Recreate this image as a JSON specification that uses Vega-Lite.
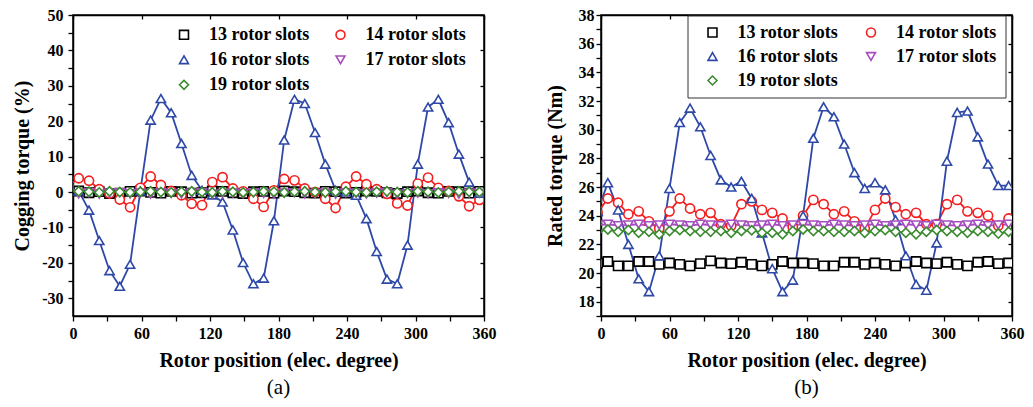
{
"$schema": "https://vega.github.io/schema/vega-lite/v6.json",
"autosize": {"type": "pad"},
"padding": {"left": 11, "top": 6, "right": 5, "bottom": 5},
"background": "white",
"bounds": "flush",
"spacing": 117,
"resolve": {"scale": {"color": "independent", "shape": "independent"}, "legend": {"color": "independent", "shape": "independent"}},
"config": {
  "view": {"stroke": "#000", "strokeWidth": 1.5},
  "axis": {"domainColor": "#000", "domainWidth": 1.5, "tickColor": "#000", "tickWidth": 1.3, "tickSize": 5,
    "labelFont": "Liberation Serif", "labelFontSize": 16, "labelFontWeight": "bold", "labelColor": "#000", "labelPadding": 4,
    "titleFont": "Liberation Serif", "titleFontSize": 20, "titleFontWeight": "bold", "titleColor": "#000",
    "grid": false, "labelOverlap": false, "labelFlush": false}
},
"datasets": {
"a": [
{"slots":"13 rotor slots","x":-4,"y":0.2},{"slots":"13 rotor slots","x":5,"y":0.3},{"slots":"13 rotor slots","x":14,"y":-0.2},{"slots":"13 rotor slots","x":23,"y":0.1},{"slots":"13 rotor slots","x":32,"y":-0.4},{"slots":"13 rotor slots","x":41,"y":-0.3},{"slots":"13 rotor slots","x":50,"y":0.2},{"slots":"13 rotor slots","x":59,"y":0.3},{"slots":"13 rotor slots","x":68,"y":-0.1},{"slots":"13 rotor slots","x":77,"y":-0.3},{"slots":"13 rotor slots","x":86,"y":0.2},{"slots":"13 rotor slots","x":95,"y":0.1},{"slots":"13 rotor slots","x":104,"y":-0.3},{"slots":"13 rotor slots","x":113,"y":-0.2},{"slots":"13 rotor slots","x":122,"y":0.3},{"slots":"13 rotor slots","x":131,"y":0.2},{"slots":"13 rotor slots","x":140,"y":-0.2},{"slots":"13 rotor slots","x":149,"y":-0.4},{"slots":"13 rotor slots","x":158,"y":0.1},{"slots":"13 rotor slots","x":167,"y":0.2},{"slots":"13 rotor slots","x":176,"y":-0.3},{"slots":"13 rotor slots","x":185,"y":0.3},{"slots":"13 rotor slots","x":194,"y":0.1},{"slots":"13 rotor slots","x":203,"y":-0.2},{"slots":"13 rotor slots","x":212,"y":-0.3},{"slots":"13 rotor slots","x":221,"y":0.2},{"slots":"13 rotor slots","x":230,"y":0.1},{"slots":"13 rotor slots","x":239,"y":-0.3},{"slots":"13 rotor slots","x":248,"y":-0.1},{"slots":"13 rotor slots","x":257,"y":0.3},{"slots":"13 rotor slots","x":266,"y":0.2},{"slots":"13 rotor slots","x":275,"y":-0.2},{"slots":"13 rotor slots","x":284,"y":-0.4},{"slots":"13 rotor slots","x":293,"y":0.1},{"slots":"13 rotor slots","x":302,"y":0.3},{"slots":"13 rotor slots","x":311,"y":-0.2},{"slots":"13 rotor slots","x":320,"y":-0.3},{"slots":"13 rotor slots","x":329,"y":0.2},{"slots":"13 rotor slots","x":338,"y":0.1},{"slots":"13 rotor slots","x":347,"y":-0.3},{"slots":"13 rotor slots","x":356,"y":0.2},
{"slots":"14 rotor slots","x":-4,"y":1.8},{"slots":"14 rotor slots","x":5,"y":3.9},{"slots":"14 rotor slots","x":14,"y":3.2},{"slots":"14 rotor slots","x":23,"y":0.8},{"slots":"14 rotor slots","x":32,"y":-0.4},{"slots":"14 rotor slots","x":41,"y":-2.1},{"slots":"14 rotor slots","x":50,"y":-4.3},{"slots":"14 rotor slots","x":59,"y":1.2},{"slots":"14 rotor slots","x":68,"y":4.4},{"slots":"14 rotor slots","x":77,"y":2.0},{"slots":"14 rotor slots","x":86,"y":0.3},{"slots":"14 rotor slots","x":95,"y":-0.9},{"slots":"14 rotor slots","x":104,"y":-3.3},{"slots":"14 rotor slots","x":113,"y":-3.7},{"slots":"14 rotor slots","x":122,"y":2.8},{"slots":"14 rotor slots","x":131,"y":4.2},{"slots":"14 rotor slots","x":140,"y":1.0},{"slots":"14 rotor slots","x":149,"y":0.2},{"slots":"14 rotor slots","x":158,"y":-1.9},{"slots":"14 rotor slots","x":167,"y":-4.2},{"slots":"14 rotor slots","x":176,"y":0.5},{"slots":"14 rotor slots","x":185,"y":3.7},{"slots":"14 rotor slots","x":194,"y":3.3},{"slots":"14 rotor slots","x":203,"y":1.0},{"slots":"14 rotor slots","x":212,"y":0.0},{"slots":"14 rotor slots","x":221,"y":-1.9},{"slots":"14 rotor slots","x":230,"y":-4.5},{"slots":"14 rotor slots","x":239,"y":1.5},{"slots":"14 rotor slots","x":248,"y":4.4},{"slots":"14 rotor slots","x":257,"y":2.2},{"slots":"14 rotor slots","x":266,"y":0.8},{"slots":"14 rotor slots","x":275,"y":-0.5},{"slots":"14 rotor slots","x":284,"y":-3.2},{"slots":"14 rotor slots","x":293,"y":-3.8},{"slots":"14 rotor slots","x":302,"y":2.4},{"slots":"14 rotor slots","x":311,"y":4.1},{"slots":"14 rotor slots","x":320,"y":1.2},{"slots":"14 rotor slots","x":329,"y":0.3},{"slots":"14 rotor slots","x":338,"y":-1.2},{"slots":"14 rotor slots","x":347,"y":-4.0},{"slots":"14 rotor slots","x":356,"y":-2.2},
{"slots":"16 rotor slots","x":-4,"y":2.5},{"slots":"16 rotor slots","x":5,"y":0.3},{"slots":"16 rotor slots","x":14,"y":-5.1},{"slots":"16 rotor slots","x":23,"y":-13.7},{"slots":"16 rotor slots","x":32,"y":-22.2},{"slots":"16 rotor slots","x":41,"y":-26.6},{"slots":"16 rotor slots","x":50,"y":-20.4},{"slots":"16 rotor slots","x":59,"y":0.3},{"slots":"16 rotor slots","x":68,"y":20.3},{"slots":"16 rotor slots","x":77,"y":26.4},{"slots":"16 rotor slots","x":86,"y":22.4},{"slots":"16 rotor slots","x":95,"y":13.7},{"slots":"16 rotor slots","x":104,"y":4.7},{"slots":"16 rotor slots","x":113,"y":0.5},{"slots":"16 rotor slots","x":122,"y":-0.8},{"slots":"16 rotor slots","x":131,"y":-2.8},{"slots":"16 rotor slots","x":140,"y":-10.7},{"slots":"16 rotor slots","x":149,"y":-19.9},{"slots":"16 rotor slots","x":158,"y":-25.9},{"slots":"16 rotor slots","x":167,"y":-24.3},{"slots":"16 rotor slots","x":176,"y":-8.1},{"slots":"16 rotor slots","x":185,"y":14.7},{"slots":"16 rotor slots","x":194,"y":26.2},{"slots":"16 rotor slots","x":203,"y":25.0},{"slots":"16 rotor slots","x":212,"y":16.8},{"slots":"16 rotor slots","x":221,"y":7.9},{"slots":"16 rotor slots","x":230,"y":0.5},{"slots":"16 rotor slots","x":239,"y":0.0},{"slots":"16 rotor slots","x":248,"y":-0.9},{"slots":"16 rotor slots","x":257,"y":-7.5},{"slots":"16 rotor slots","x":266,"y":-16.8},{"slots":"16 rotor slots","x":275,"y":-24.6},{"slots":"16 rotor slots","x":284,"y":-25.9},{"slots":"16 rotor slots","x":293,"y":-15.0},{"slots":"16 rotor slots","x":302,"y":7.9},{"slots":"16 rotor slots","x":311,"y":24.0},{"slots":"16 rotor slots","x":320,"y":26.2},{"slots":"16 rotor slots","x":329,"y":19.6},{"slots":"16 rotor slots","x":338,"y":10.7},{"slots":"16 rotor slots","x":347,"y":2.8},{"slots":"16 rotor slots","x":356,"y":-0.3},
{"slots":"17 rotor slots","x":-4,"y":-0.3},{"slots":"17 rotor slots","x":5,"y":-0.5},{"slots":"17 rotor slots","x":14,"y":-0.2},{"slots":"17 rotor slots","x":23,"y":-0.6},{"slots":"17 rotor slots","x":32,"y":-0.3},{"slots":"17 rotor slots","x":41,"y":-0.2},{"slots":"17 rotor slots","x":50,"y":-0.5},{"slots":"17 rotor slots","x":59,"y":-0.3},{"slots":"17 rotor slots","x":68,"y":-0.6},{"slots":"17 rotor slots","x":77,"y":-0.2},{"slots":"17 rotor slots","x":86,"y":-0.4},{"slots":"17 rotor slots","x":95,"y":-0.5},{"slots":"17 rotor slots","x":104,"y":-0.3},{"slots":"17 rotor slots","x":113,"y":-0.2},{"slots":"17 rotor slots","x":122,"y":-0.6},{"slots":"17 rotor slots","x":131,"y":-0.4},{"slots":"17 rotor slots","x":140,"y":-0.3},{"slots":"17 rotor slots","x":149,"y":-0.5},{"slots":"17 rotor slots","x":158,"y":-0.2},{"slots":"17 rotor slots","x":167,"y":-0.4},{"slots":"17 rotor slots","x":176,"y":-0.6},{"slots":"17 rotor slots","x":185,"y":-0.3},{"slots":"17 rotor slots","x":194,"y":-0.2},{"slots":"17 rotor slots","x":203,"y":-0.5},{"slots":"17 rotor slots","x":212,"y":-0.4},{"slots":"17 rotor slots","x":221,"y":-0.3},{"slots":"17 rotor slots","x":230,"y":-0.6},{"slots":"17 rotor slots","x":239,"y":-0.2},{"slots":"17 rotor slots","x":248,"y":-0.4},{"slots":"17 rotor slots","x":257,"y":-0.5},{"slots":"17 rotor slots","x":266,"y":-0.3},{"slots":"17 rotor slots","x":275,"y":-0.2},{"slots":"17 rotor slots","x":284,"y":-0.6},{"slots":"17 rotor slots","x":293,"y":-0.4},{"slots":"17 rotor slots","x":302,"y":-0.3},{"slots":"17 rotor slots","x":311,"y":-0.5},{"slots":"17 rotor slots","x":320,"y":-0.2},{"slots":"17 rotor slots","x":329,"y":-0.4},{"slots":"17 rotor slots","x":338,"y":-0.6},{"slots":"17 rotor slots","x":347,"y":-0.3},{"slots":"17 rotor slots","x":356,"y":-0.4},
{"slots":"19 rotor slots","x":-4,"y":0.1},{"slots":"19 rotor slots","x":5,"y":0.2},{"slots":"19 rotor slots","x":14,"y":0.1},{"slots":"19 rotor slots","x":23,"y":-0.1},{"slots":"19 rotor slots","x":32,"y":0.2},{"slots":"19 rotor slots","x":41,"y":0.0},{"slots":"19 rotor slots","x":50,"y":-0.1},{"slots":"19 rotor slots","x":59,"y":0.1},{"slots":"19 rotor slots","x":68,"y":0.2},{"slots":"19 rotor slots","x":77,"y":0.0},{"slots":"19 rotor slots","x":86,"y":-0.1},{"slots":"19 rotor slots","x":95,"y":0.1},{"slots":"19 rotor slots","x":104,"y":0.2},{"slots":"19 rotor slots","x":113,"y":0.0},{"slots":"19 rotor slots","x":122,"y":-0.1},{"slots":"19 rotor slots","x":131,"y":0.2},{"slots":"19 rotor slots","x":140,"y":0.1},{"slots":"19 rotor slots","x":149,"y":-0.1},{"slots":"19 rotor slots","x":158,"y":0.0},{"slots":"19 rotor slots","x":167,"y":0.2},{"slots":"19 rotor slots","x":176,"y":0.1},{"slots":"19 rotor slots","x":185,"y":-0.1},{"slots":"19 rotor slots","x":194,"y":0.1},{"slots":"19 rotor slots","x":203,"y":0.2},{"slots":"19 rotor slots","x":212,"y":0.0},{"slots":"19 rotor slots","x":221,"y":-0.1},{"slots":"19 rotor slots","x":230,"y":0.1},{"slots":"19 rotor slots","x":239,"y":0.2},{"slots":"19 rotor slots","x":248,"y":0.0},{"slots":"19 rotor slots","x":257,"y":-0.1},{"slots":"19 rotor slots","x":266,"y":0.1},{"slots":"19 rotor slots","x":275,"y":0.2},{"slots":"19 rotor slots","x":284,"y":0.0},{"slots":"19 rotor slots","x":293,"y":-0.1},{"slots":"19 rotor slots","x":302,"y":0.2},{"slots":"19 rotor slots","x":311,"y":0.1},{"slots":"19 rotor slots","x":320,"y":-0.1},{"slots":"19 rotor slots","x":329,"y":0.0},{"slots":"19 rotor slots","x":338,"y":0.2},{"slots":"19 rotor slots","x":347,"y":0.1},{"slots":"19 rotor slots","x":356,"y":0.0}
],
"b": [
{"slots":"13 rotor slots","x":-3,"y":20.7},{"slots":"13 rotor slots","x":6,"y":20.8},{"slots":"13 rotor slots","x":15,"y":20.5},{"slots":"13 rotor slots","x":24,"y":20.5},{"slots":"13 rotor slots","x":33,"y":20.8},{"slots":"13 rotor slots","x":42,"y":20.8},{"slots":"13 rotor slots","x":51,"y":20.6},{"slots":"13 rotor slots","x":60,"y":20.7},{"slots":"13 rotor slots","x":69,"y":20.6},{"slots":"13 rotor slots","x":78,"y":20.5},{"slots":"13 rotor slots","x":87,"y":20.65},{"slots":"13 rotor slots","x":96,"y":20.85},{"slots":"13 rotor slots","x":105,"y":20.7},{"slots":"13 rotor slots","x":114,"y":20.65},{"slots":"13 rotor slots","x":123,"y":20.75},{"slots":"13 rotor slots","x":132,"y":20.6},{"slots":"13 rotor slots","x":141,"y":20.5},{"slots":"13 rotor slots","x":150,"y":20.6},{"slots":"13 rotor slots","x":159,"y":20.8},{"slots":"13 rotor slots","x":168,"y":20.7},{"slots":"13 rotor slots","x":177,"y":20.7},{"slots":"13 rotor slots","x":186,"y":20.65},{"slots":"13 rotor slots","x":195,"y":20.5},{"slots":"13 rotor slots","x":204,"y":20.5},{"slots":"13 rotor slots","x":213,"y":20.75},{"slots":"13 rotor slots","x":222,"y":20.75},{"slots":"13 rotor slots","x":231,"y":20.6},{"slots":"13 rotor slots","x":240,"y":20.7},{"slots":"13 rotor slots","x":249,"y":20.6},{"slots":"13 rotor slots","x":258,"y":20.5},{"slots":"13 rotor slots","x":267,"y":20.7},{"slots":"13 rotor slots","x":276,"y":20.8},{"slots":"13 rotor slots","x":285,"y":20.7},{"slots":"13 rotor slots","x":294,"y":20.65},{"slots":"13 rotor slots","x":303,"y":20.75},{"slots":"13 rotor slots","x":312,"y":20.6},{"slots":"13 rotor slots","x":321,"y":20.5},{"slots":"13 rotor slots","x":330,"y":20.75},{"slots":"13 rotor slots","x":339,"y":20.8},{"slots":"13 rotor slots","x":348,"y":20.65},{"slots":"13 rotor slots","x":357,"y":20.7},
{"slots":"14 rotor slots","x":-3,"y":24.2},{"slots":"14 rotor slots","x":6,"y":25.2},{"slots":"14 rotor slots","x":15,"y":24.9},{"slots":"14 rotor slots","x":24,"y":24.1},{"slots":"14 rotor slots","x":33,"y":24.3},{"slots":"14 rotor slots","x":42,"y":23.6},{"slots":"14 rotor slots","x":51,"y":23.1},{"slots":"14 rotor slots","x":60,"y":24.3},{"slots":"14 rotor slots","x":69,"y":25.2},{"slots":"14 rotor slots","x":78,"y":24.5},{"slots":"14 rotor slots","x":87,"y":24.1},{"slots":"14 rotor slots","x":96,"y":24.2},{"slots":"14 rotor slots","x":105,"y":23.4},{"slots":"14 rotor slots","x":114,"y":23.3},{"slots":"14 rotor slots","x":123,"y":24.8},{"slots":"14 rotor slots","x":132,"y":25.0},{"slots":"14 rotor slots","x":141,"y":24.4},{"slots":"14 rotor slots","x":150,"y":24.2},{"slots":"14 rotor slots","x":159,"y":23.8},{"slots":"14 rotor slots","x":168,"y":23.2},{"slots":"14 rotor slots","x":177,"y":24.0},{"slots":"14 rotor slots","x":186,"y":25.1},{"slots":"14 rotor slots","x":195,"y":24.8},{"slots":"14 rotor slots","x":204,"y":24.1},{"slots":"14 rotor slots","x":213,"y":24.3},{"slots":"14 rotor slots","x":222,"y":23.6},{"slots":"14 rotor slots","x":231,"y":23.1},{"slots":"14 rotor slots","x":240,"y":24.4},{"slots":"14 rotor slots","x":249,"y":25.2},{"slots":"14 rotor slots","x":258,"y":24.6},{"slots":"14 rotor slots","x":267,"y":24.1},{"slots":"14 rotor slots","x":276,"y":24.2},{"slots":"14 rotor slots","x":285,"y":23.4},{"slots":"14 rotor slots","x":294,"y":23.4},{"slots":"14 rotor slots","x":303,"y":24.8},{"slots":"14 rotor slots","x":312,"y":25.1},{"slots":"14 rotor slots","x":321,"y":24.3},{"slots":"14 rotor slots","x":330,"y":24.2},{"slots":"14 rotor slots","x":339,"y":24.0},{"slots":"14 rotor slots","x":348,"y":23.3},{"slots":"14 rotor slots","x":357,"y":23.8},
{"slots":"16 rotor slots","x":-3,"y":24.3},{"slots":"16 rotor slots","x":6,"y":26.3},{"slots":"16 rotor slots","x":15,"y":24.4},{"slots":"16 rotor slots","x":24,"y":22.0},{"slots":"16 rotor slots","x":33,"y":19.6},{"slots":"16 rotor slots","x":42,"y":18.7},{"slots":"16 rotor slots","x":51,"y":21.2},{"slots":"16 rotor slots","x":60,"y":25.9},{"slots":"16 rotor slots","x":69,"y":30.5},{"slots":"16 rotor slots","x":78,"y":31.5},{"slots":"16 rotor slots","x":87,"y":30.2},{"slots":"16 rotor slots","x":96,"y":28.2},{"slots":"16 rotor slots","x":105,"y":26.5},{"slots":"16 rotor slots","x":114,"y":26.0},{"slots":"16 rotor slots","x":123,"y":26.4},{"slots":"16 rotor slots","x":132,"y":25.2},{"slots":"16 rotor slots","x":141,"y":22.8},{"slots":"16 rotor slots","x":150,"y":20.3},{"slots":"16 rotor slots","x":159,"y":18.7},{"slots":"16 rotor slots","x":168,"y":19.5},{"slots":"16 rotor slots","x":177,"y":24.0},{"slots":"16 rotor slots","x":186,"y":29.4},{"slots":"16 rotor slots","x":195,"y":31.6},{"slots":"16 rotor slots","x":204,"y":30.9},{"slots":"16 rotor slots","x":213,"y":29.0},{"slots":"16 rotor slots","x":222,"y":27.0},{"slots":"16 rotor slots","x":231,"y":25.9},{"slots":"16 rotor slots","x":240,"y":26.3},{"slots":"16 rotor slots","x":249,"y":25.8},{"slots":"16 rotor slots","x":258,"y":23.7},{"slots":"16 rotor slots","x":267,"y":21.2},{"slots":"16 rotor slots","x":276,"y":19.2},{"slots":"16 rotor slots","x":285,"y":18.8},{"slots":"16 rotor slots","x":294,"y":22.1},{"slots":"16 rotor slots","x":303,"y":27.8},{"slots":"16 rotor slots","x":312,"y":31.2},{"slots":"16 rotor slots","x":321,"y":31.3},{"slots":"16 rotor slots","x":330,"y":29.5},{"slots":"16 rotor slots","x":339,"y":27.6},{"slots":"16 rotor slots","x":348,"y":26.1},{"slots":"16 rotor slots","x":357,"y":26.1},
{"slots":"17 rotor slots","x":-3,"y":23.35},{"slots":"17 rotor slots","x":6,"y":23.4},{"slots":"17 rotor slots","x":15,"y":23.3},{"slots":"17 rotor slots","x":24,"y":23.35},{"slots":"17 rotor slots","x":33,"y":23.4},{"slots":"17 rotor slots","x":42,"y":23.3},{"slots":"17 rotor slots","x":51,"y":23.35},{"slots":"17 rotor slots","x":60,"y":23.4},{"slots":"17 rotor slots","x":69,"y":23.35},{"slots":"17 rotor slots","x":78,"y":23.3},{"slots":"17 rotor slots","x":87,"y":23.4},{"slots":"17 rotor slots","x":96,"y":23.35},{"slots":"17 rotor slots","x":105,"y":23.3},{"slots":"17 rotor slots","x":114,"y":23.4},{"slots":"17 rotor slots","x":123,"y":23.35},{"slots":"17 rotor slots","x":132,"y":23.3},{"slots":"17 rotor slots","x":141,"y":23.35},{"slots":"17 rotor slots","x":150,"y":23.4},{"slots":"17 rotor slots","x":159,"y":23.3},{"slots":"17 rotor slots","x":168,"y":23.35},{"slots":"17 rotor slots","x":177,"y":23.4},{"slots":"17 rotor slots","x":186,"y":23.35},{"slots":"17 rotor slots","x":195,"y":23.3},{"slots":"17 rotor slots","x":204,"y":23.4},{"slots":"17 rotor slots","x":213,"y":23.35},{"slots":"17 rotor slots","x":222,"y":23.3},{"slots":"17 rotor slots","x":231,"y":23.35},{"slots":"17 rotor slots","x":240,"y":23.4},{"slots":"17 rotor slots","x":249,"y":23.3},{"slots":"17 rotor slots","x":258,"y":23.35},{"slots":"17 rotor slots","x":267,"y":23.4},{"slots":"17 rotor slots","x":276,"y":23.35},{"slots":"17 rotor slots","x":285,"y":23.3},{"slots":"17 rotor slots","x":294,"y":23.4},{"slots":"17 rotor slots","x":303,"y":23.35},{"slots":"17 rotor slots","x":312,"y":23.3},{"slots":"17 rotor slots","x":321,"y":23.35},{"slots":"17 rotor slots","x":330,"y":23.4},{"slots":"17 rotor slots","x":339,"y":23.3},{"slots":"17 rotor slots","x":348,"y":23.35},{"slots":"17 rotor slots","x":357,"y":23.4},
{"slots":"19 rotor slots","x":-3,"y":22.9},{"slots":"19 rotor slots","x":6,"y":23.04},{"slots":"19 rotor slots","x":15,"y":22.88},{"slots":"19 rotor slots","x":24,"y":23.0},{"slots":"19 rotor slots","x":33,"y":22.81},{"slots":"19 rotor slots","x":42,"y":22.88},{"slots":"19 rotor slots","x":51,"y":22.7},{"slots":"19 rotor slots","x":60,"y":22.93},{"slots":"19 rotor slots","x":69,"y":23.0},{"slots":"19 rotor slots","x":78,"y":22.93},{"slots":"19 rotor slots","x":87,"y":22.88},{"slots":"19 rotor slots","x":96,"y":22.88},{"slots":"19 rotor slots","x":105,"y":22.93},{"slots":"19 rotor slots","x":114,"y":22.81},{"slots":"19 rotor slots","x":123,"y":22.93},{"slots":"19 rotor slots","x":132,"y":22.98},{"slots":"19 rotor slots","x":141,"y":22.81},{"slots":"19 rotor slots","x":150,"y":22.81},{"slots":"19 rotor slots","x":159,"y":22.7},{"slots":"19 rotor slots","x":168,"y":22.93},{"slots":"19 rotor slots","x":177,"y":23.04},{"slots":"19 rotor slots","x":186,"y":22.93},{"slots":"19 rotor slots","x":195,"y":22.93},{"slots":"19 rotor slots","x":204,"y":22.88},{"slots":"19 rotor slots","x":213,"y":22.88},{"slots":"19 rotor slots","x":222,"y":22.93},{"slots":"19 rotor slots","x":231,"y":22.81},{"slots":"19 rotor slots","x":240,"y":22.93},{"slots":"19 rotor slots","x":249,"y":23.0},{"slots":"19 rotor slots","x":258,"y":22.88},{"slots":"19 rotor slots","x":267,"y":22.81},{"slots":"19 rotor slots","x":276,"y":22.7},{"slots":"19 rotor slots","x":285,"y":22.88},{"slots":"19 rotor slots","x":294,"y":23.0},{"slots":"19 rotor slots","x":303,"y":22.93},{"slots":"19 rotor slots","x":312,"y":22.88},{"slots":"19 rotor slots","x":321,"y":22.81},{"slots":"19 rotor slots","x":330,"y":22.93},{"slots":"19 rotor slots","x":339,"y":22.88},{"slots":"19 rotor slots","x":348,"y":22.75},{"slots":"19 rotor slots","x":357,"y":22.88}
]
},
"hconcat": [
{
  "width": 411, "height": 301,
  "data": {"name": "a"},
  "title": {"text": "(a)", "orient": "bottom", "anchor": "middle", "font": "Liberation Serif", "fontSize": 21, "fontWeight": "normal", "color": "#000", "offset": 7},
  "layer": [
    {
      "mark": {"type": "line", "strokeWidth": 1.8, "clip": true},
      "encoding": {
        "x": {"field": "x", "type": "quantitative", "scale": {"domain": [0, 360], "nice": false, "zero": false},
          "axis": {"orient": "bottom", "title": "Rotor position (elec. degree)", "titlePadding": 9, "values": [0,30,60,90,120,150,180,210,240,270,300,330,360], "labelExpr": "datum.value % 60 === 0 ? datum.label : ''"}},
        "y": {"field": "y", "type": "quantitative", "scale": {"domain": [-35, 50], "nice": false, "zero": false},
          "axis": {"orient": "left", "title": "Cogging torque (%)", "titlePadding": 9, "labelPadding": 5, "values": [-30,-25,-20,-15,-10,-5,0,5,10,15,20,25,30,35,40,45,50], "labelExpr": "datum.value % 10 === 0 ? replace(datum.label, '\u2212', '-') : ''"}},
        "color": {"field": "slots", "type": "nominal",
          "scale": {"domain": ["13 rotor slots","14 rotor slots","16 rotor slots","17 rotor slots","19 rotor slots"], "range": ["#000000","#f41e1e","#2e48a8","#a64dbf","#3a8a2e"]},
          "legend": {"orient": "none", "legendX": 87, "legendY": 3.8, "direction": "horizontal", "columns": 2, "title": null, "padding": 7,
            "symbolSize": 80, "symbolOffset": 8, "clipHeight": 18, "rowPadding": 7, "columnPadding": 13.5, "symbolStrokeWidth": 1.6, "symbolFillColor": "white",
            "labelFont": "Liberation Serif", "labelFontSize": 18, "labelFontWeight": "bold", "labelColor": "#000", "labelOffset": 16, "labelLimit": 300}}
      }
    },
    {
      "mark": {"type": "point", "filled": false, "fill": "white", "fillOpacity": 1, "opacity": 1, "strokeWidth": 1.6, "size": 85, "clip": true},
      "encoding": {
        "x": {"field": "x", "type": "quantitative", "axis": {"orient": "top", "title": null, "labels": false, "tickSize": -4, "values": [0,60,120,180,240,300,360]}},
        "y": {"field": "y", "type": "quantitative", "axis": {"orient": "right", "title": null, "labels": false, "tickSize": -4, "values": [-30,-20,-10,0,10,20,30,40,50]}},
        "color": {"field": "slots", "type": "nominal", "legend": null},
        "shape": {"field": "slots", "type": "nominal", "scale": {"domain": ["13 rotor slots","14 rotor slots","16 rotor slots","17 rotor slots","19 rotor slots"], "range": ["square","circle","triangle-up","triangle-down","diamond"]}, "legend": null}
      }
    }
  ]
},
{
  "width": 411, "height": 301,
  "data": {"name": "b"},
  "title": {"text": "(b)", "orient": "bottom", "anchor": "middle", "font": "Liberation Serif", "fontSize": 21, "fontWeight": "normal", "color": "#000", "offset": 7},
  "layer": [
    {
      "mark": {"type": "line", "strokeWidth": 1.8, "clip": true},
      "encoding": {
        "x": {"field": "x", "type": "quantitative", "scale": {"domain": [0, 360], "nice": false, "zero": false},
          "axis": {"orient": "bottom", "title": "Rotor position (elec. degree)", "titlePadding": 9, "values": [0,30,60,90,120,150,180,210,240,270,300,330,360], "labelExpr": "datum.value % 60 === 0 ? datum.label : ''"}},
        "y": {"field": "y", "type": "quantitative", "scale": {"domain": [17, 38], "nice": false, "zero": false},
          "axis": {"orient": "left", "title": "Rated torque (Nm)", "titlePadding": 13, "labelPadding": 2, "values": [17,18,19,20,21,22,23,24,25,26,27,28,29,30,31,32,33,34,35,36,37,38], "labelExpr": "datum.value % 2 === 0 ? datum.label : ''"}},
        "color": {"field": "slots", "type": "nominal",
          "scale": {"domain": ["13 rotor slots","14 rotor slots","16 rotor slots","17 rotor slots","19 rotor slots"], "range": ["#000000","#f41e1e","#2e48a8","#a64dbf","#3a8a2e"]},
          "legend": {"orient": "none", "legendX": 86.5, "legendY": 0.5, "direction": "horizontal", "columns": 2, "title": null, "padding": 8,
            "strokeColor": "#333", "fillColor": "white",
            "symbolSize": 80, "symbolOffset": 8, "clipHeight": 18, "rowPadding": 6, "columnPadding": 15.5, "symbolStrokeWidth": 1.6, "symbolFillColor": "white",
            "labelFont": "Liberation Serif", "labelFontSize": 18, "labelFontWeight": "bold", "labelColor": "#000", "labelOffset": 16, "labelLimit": 300}}
      }
    },
    {
      "mark": {"type": "point", "filled": false, "fill": "white", "fillOpacity": 1, "opacity": 1, "strokeWidth": 1.6, "size": 85, "clip": true},
      "encoding": {
        "x": {"field": "x", "type": "quantitative", "axis": {"orient": "top", "title": null, "labels": false, "tickSize": -4, "values": [0,60,120,180,240,300,360]}},
        "y": {"field": "y", "type": "quantitative", "axis": {"orient": "right", "title": null, "labels": false, "tickSize": -4, "values": [18,20,22,24,26,28,30,32,34,36,38]}},
        "color": {"field": "slots", "type": "nominal", "legend": null},
        "shape": {"field": "slots", "type": "nominal", "scale": {"domain": ["13 rotor slots","14 rotor slots","16 rotor slots","17 rotor slots","19 rotor slots"], "range": ["square","circle","triangle-up","triangle-down","diamond"]}, "legend": null}
      }
    }
  ]
}
]
}
